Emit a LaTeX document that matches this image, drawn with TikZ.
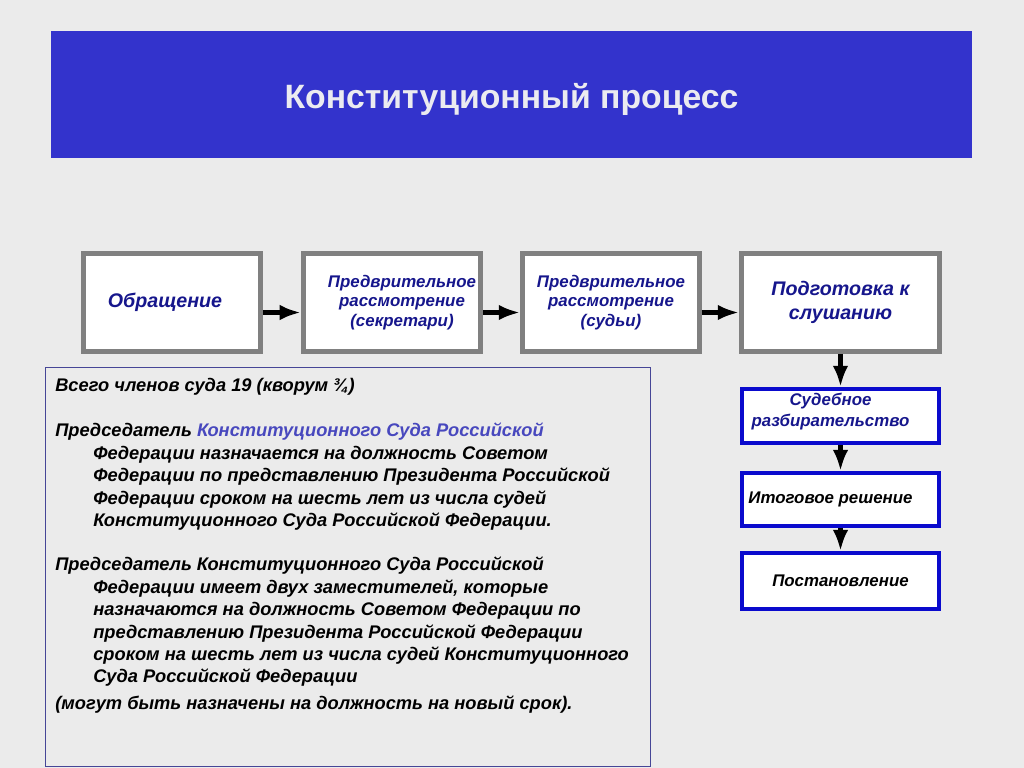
\documentclass[tikz,border=0pt]{standalone}
\usepackage{fontspec}
\setmainfont{Liberation Sans}
\usetikzlibrary{arrows.meta}
\definecolor{bgcol}{RGB}{235,235,235}
\definecolor{titleblue}{RGB}{51,51,204}
\definecolor{titletext}{RGB}{235,235,240}
\definecolor{navytext}{RGB}{22,22,140}
\definecolor{boxgray}{RGB}{128,128,128}
\definecolor{boxblue}{RGB}{10,10,205}
\definecolor{frameblue}{RGB}{70,70,150}
\definecolor{linkblue}{RGB}{72,72,190}
\tikzstyle{graybox} = [rectangle, draw=boxgray, line width=3.5pt, fill=white, minimum height=2.45cm, align=center, font=\fontsize{12}{14}\selectfont\bfseries\itshape, text=navytext]
\tikzstyle{bluebox} = [rectangle, draw=boxblue, line width=2.8pt, fill=white, minimum width=4.925cm, align=center, font=\fontsize{12}{14.5}\selectfont\bfseries\itshape]
\tikzstyle{para} = [anchor=north west, align=left, inner sep=0pt, font=\fontsize{13}{15.9}\selectfont\bfseries\itshape]
\tikzstyle{arrow} = [line width=3pt, -{Latex[length=15pt,width=11pt]}]

\begin{document}
\begin{tikzpicture}[x=0.025cm, y=-0.025cm]
\useasboundingbox (0,0) rectangle (1024,768);
\fill[bgcol] (0,0) rectangle (1024,768);

%Title
\fill[titleblue] (51,31) rectangle (972,158);
\node[text=titletext, font=\fontsize{24}{28}\selectfont\bfseries] (title) at (511.5,99) {Конституционный процесс};

%Upper row
\node[graybox, minimum width=4.425cm, font=\fontsize{14}{17}\selectfont\bfseries\itshape] (obr) at (172,302.5) {Обращение\hspace*{0.35cm}};
\node[graybox, minimum width=4.425cm] (sekr) at (392,302.5) {\hspace*{0.5cm}Предврительное\\\hspace*{0.5cm}рассмотрение\\\hspace*{0.5cm}(секретари)};
\node[graybox, minimum width=4.425cm] (sudy) at (611,302.5) {Предврительное\\рассмотрение\\(судьи)};
\node[graybox, minimum width=4.95cm, font=\fontsize{14}{17}\selectfont\bfseries\itshape] (prep) at (840.5,302.5) {Подготовка к\\слушанию};

\draw[arrow] ([yshift=-0.25cm]obr.east) -- ([yshift=-0.25cm]sekr.west);
\draw[arrow] ([yshift=-0.25cm]sekr.east) -- ([yshift=-0.25cm]sudy.west);
\draw[arrow] ([yshift=-0.25cm]sudy.east) -- ([yshift=-0.25cm]prep.west);

%Right column
\node[bluebox, minimum height=1.15cm, text=navytext, text depth=0.3cm] (trial) at (840.5,416) {Судебное\hspace*{0.5cm}\\разбирательство\hspace*{0.5cm}};
\node[bluebox, minimum height=1.325cm] (final) at (840.5,499.5) {Итоговое решение\hspace*{0.5cm}};
\node[bluebox, minimum height=1.4cm] (ruling) at (840.5,581) {Постановление};

\draw[arrow] (prep.south) -- (trial.north);
\draw[arrow] (trial.south) -- (final.north);
\draw[arrow] (final.south) -- (ruling.north);

%Text frame
\draw[frameblue, line width=0.7pt] (45,367) rectangle (650,766);
\node[para] (total) at (55,376) {\strut Всего членов суда 19 (кворум ¾)};
\node[para] (chair) at (55,421) {\strut Председатель \textcolor{linkblue}{Конституционного Суда Российской}\\
\hspace*{0.95cm}Федерации назначается на должность Советом\\
\hspace*{0.95cm}Федерации по представлению Президента Российской\\
\hspace*{0.95cm}Федерации сроком на шесть лет из числа судей\\
\hspace*{0.95cm}Конституционного Суда Российской Федерации.};
\node[para] (deputies) at (55,555) {\strut Председатель Конституционного Суда Российской\\
\hspace*{0.95cm}Федерации имеет двух заместителей, которые\\
\hspace*{0.95cm}назначаются на должность Советом Федерации по\\
\hspace*{0.95cm}представлению Президента Российской Федерации\\
\hspace*{0.95cm}сроком на шесть лет из числа судей Конституционного\\
\hspace*{0.95cm}Суда Российской Федерации};
\node[para] (renew) at (55,694) {\strut(могут быть назначены на должность на новый срок).};
\end{tikzpicture}
\end{document}
